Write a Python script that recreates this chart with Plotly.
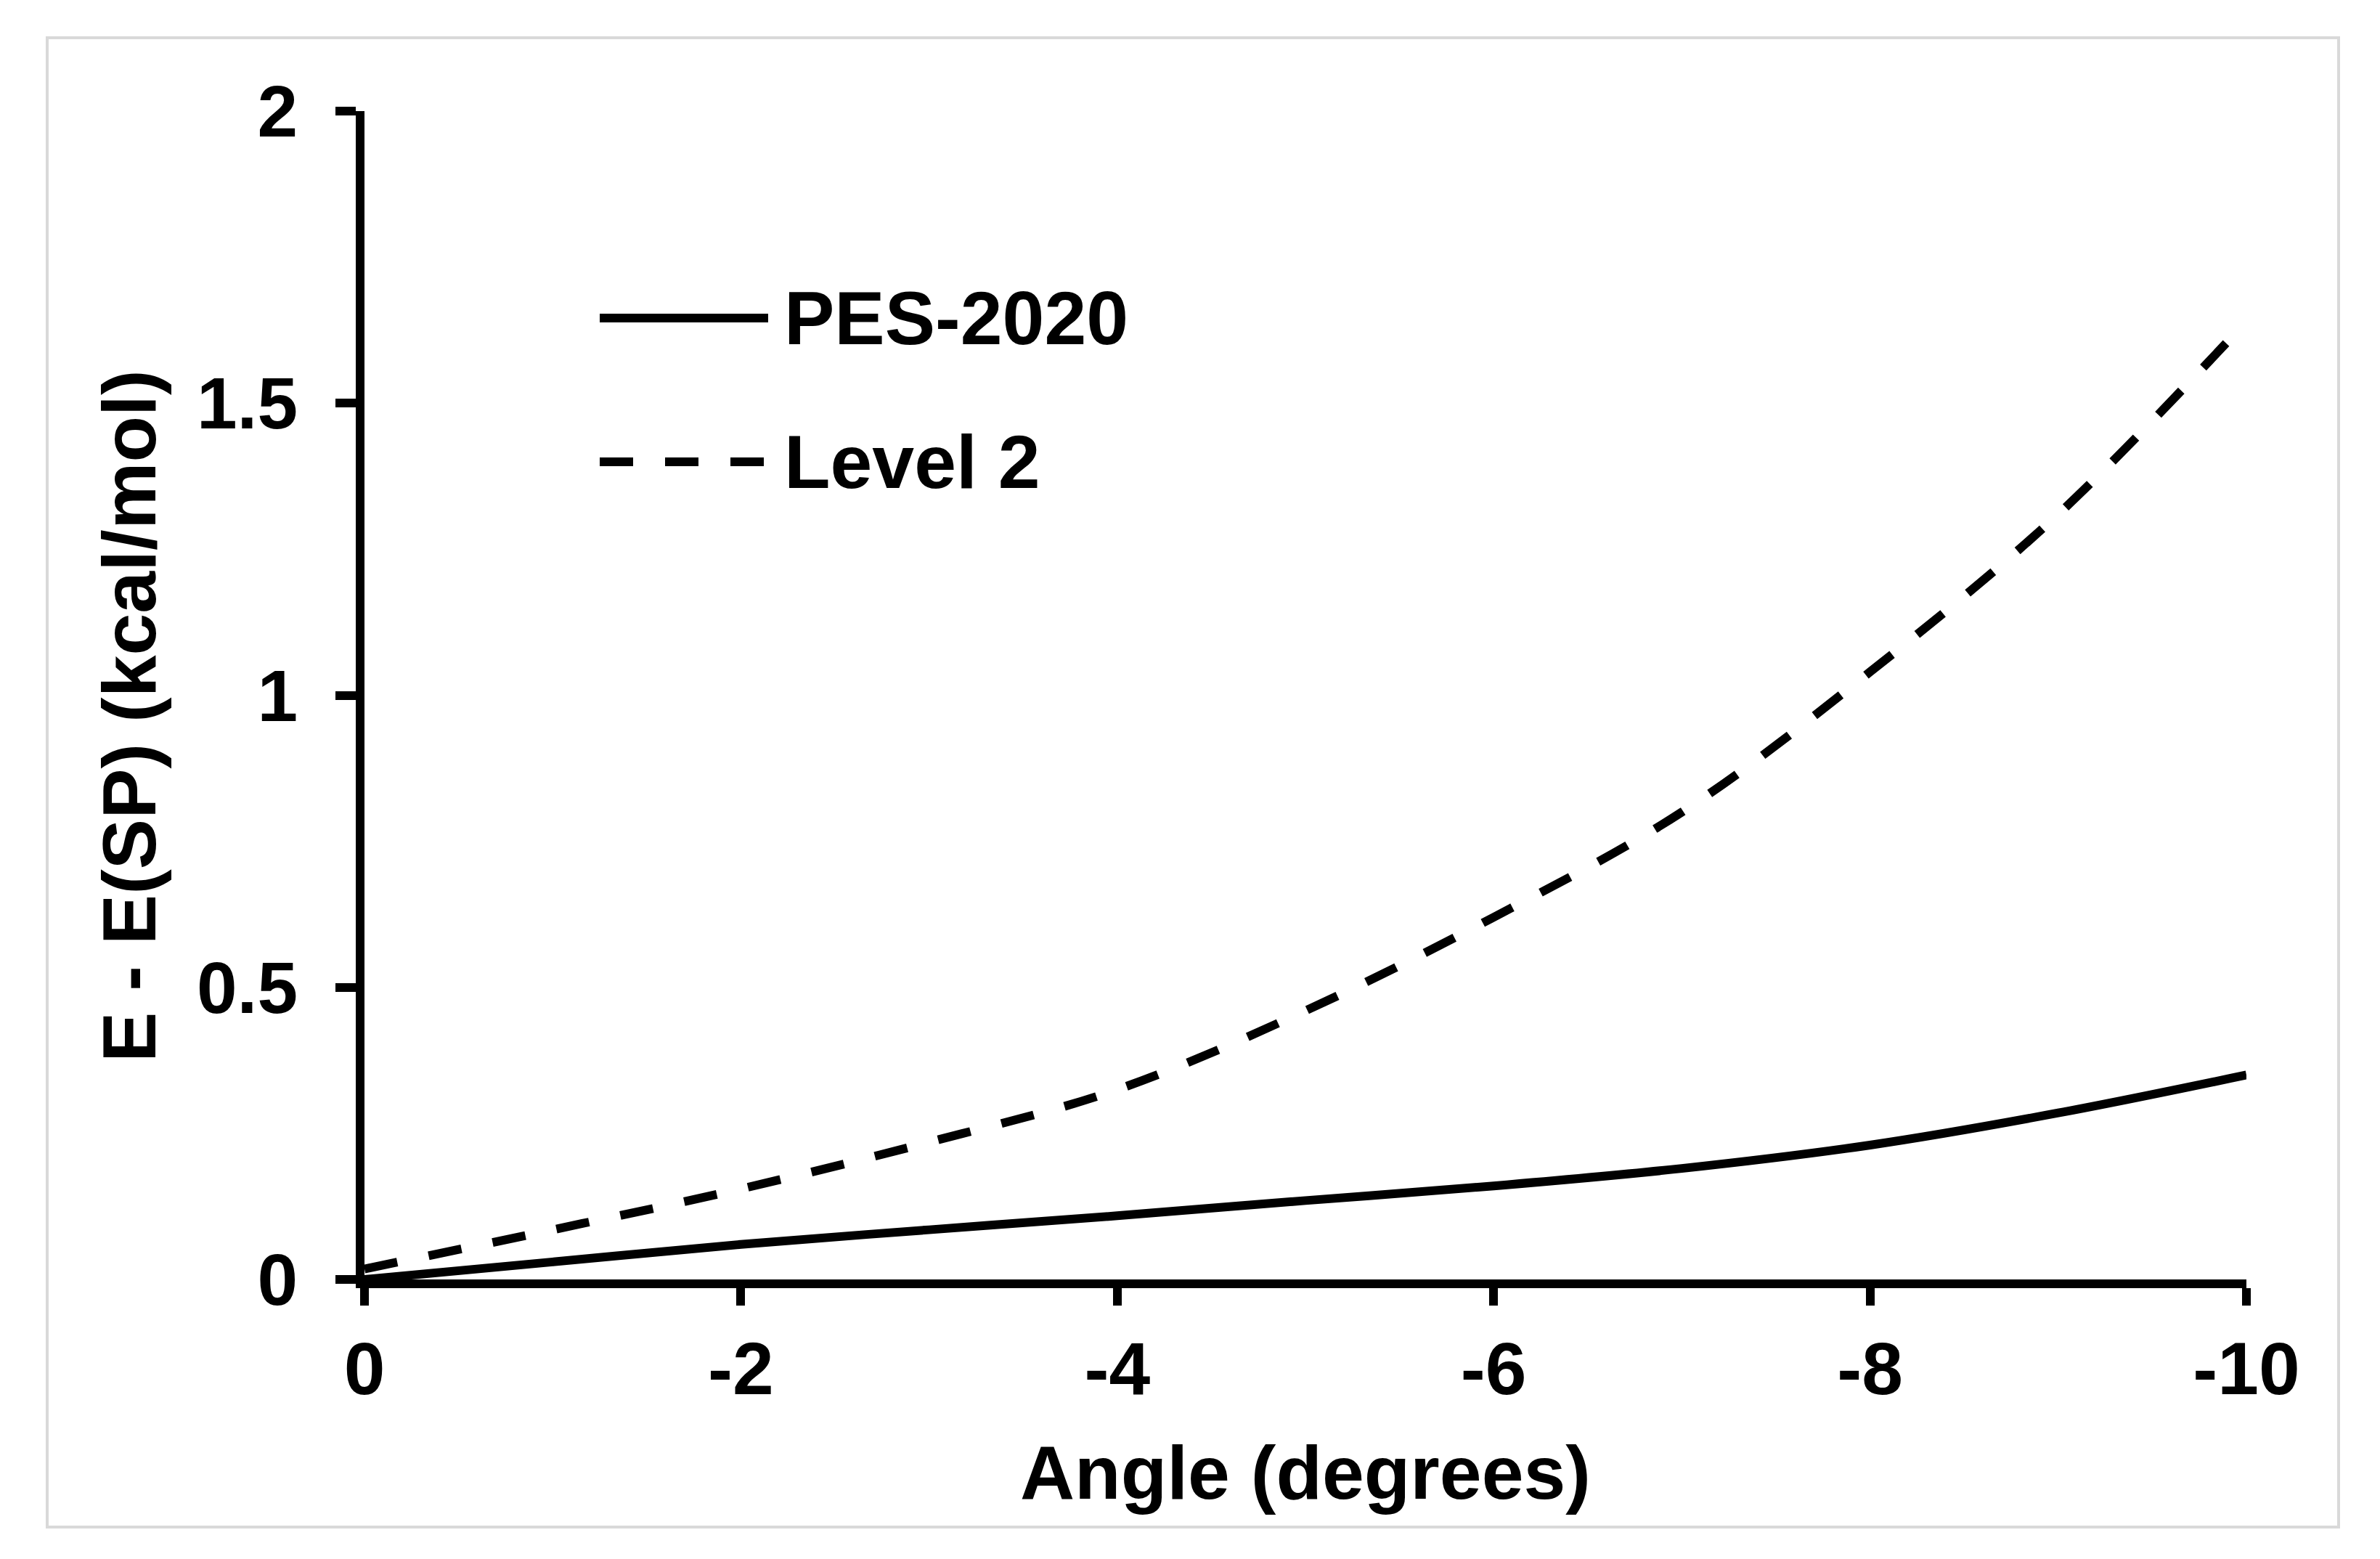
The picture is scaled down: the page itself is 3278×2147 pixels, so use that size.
import plotly.graph_objects as go

# ---- data ----
angle = [0, -1, -2, -3, -4, -5, -6, -7, -8, -9, -10]
pes2020 = [0.0, 0.03, 0.06, 0.085, 0.109, 0.135, 0.16, 0.19, 0.23, 0.285, 0.35]
level2 = [0.018, 0.085, 0.155, 0.235, 0.325, 0.46, 0.62, 0.80, 1.04, 1.31, 1.64]
series_names = ["PES-2020", "Level 2"]
x_ticks = [0, -2, -4, -6, -8, -10]
y_ticks = [0, 0.5, 1, 1.5, 2]
y_ticklabels = ["0", "0.5", "1", "1.5", "2"]
x_title = "Angle (degrees)"
y_title = "E - E(SP) (kcal/mol)"

W, H = 3278, 2147
ML, MR, MT, MB = 494, 192, 145, 393
PW, PH = W - ML - MR, H - MT - MB

FONT = "Liberation Sans, Arial, sans-serif"
LW = 12
DASH = "46px,44px"

def px2paper(px, py):
    return (px - ML) / PW, (H - MB - py) / PH

fig = go.Figure()
fig.add_trace(go.Scatter(x=angle, y=pes2020, mode="lines", name=series_names[0],
                         line=dict(color="black", width=LW, shape="spline"), showlegend=False))
fig.add_trace(go.Scatter(x=angle, y=level2, mode="lines", name=series_names[1],
                         line=dict(color="black", width=LW, shape="spline", dash=DASH),
                         showlegend=False))

shapes = []
# outer light-grey frame
x0, y0 = px2paper(57, 2095)
x1, y1 = px2paper(3213, 44)
shapes.append(dict(type="rect", xref="paper", yref="paper", x0=x0, y0=y0, x1=x1, y1=y1,
                   line=dict(color="#d9d9d9", width=4), layer="below"))

# custom legend (long sample lines as in the reference)
annotations = []
rows = [(430, None), (628, DASH)]
for (py, dash), name in zip(rows, series_names):
    lx0, ly = px2paper(818, py)
    lx1, _ = px2paper(1050, py)
    ln = dict(color="black", width=LW)
    if dash:
        ln["dash"] = dash
    shapes.append(dict(type="line", xref="paper", yref="paper", x0=lx0, x1=lx1, y0=ly, y1=ly, line=ln))
    tx, ty = px2paper(1070, py)
    annotations.append(dict(x=tx, y=ty, xref="paper", yref="paper", text=name, showarrow=False,
                            xanchor="left", yanchor="middle",
                            font=dict(family=FONT, size=104, color="black", weight="bold")))

# y-axis title
tx, ty = px2paper(170, 978)
annotations.append(dict(x=tx, y=ty, xref="paper", yref="paper", text=y_title, showarrow=False,
                        textangle=-90, xanchor="center", yanchor="middle",
                        font=dict(family=FONT, size=104, color="black", weight="bold")))

fig.update_layout(
    width=W, height=H,
    margin=dict(l=ML, r=MR, t=MT, b=MB),
    paper_bgcolor="white", plot_bgcolor="white",
    shapes=shapes, annotations=annotations,
    showlegend=False,
    font=dict(family=FONT, color="black", weight="bold"),
)
fig.update_xaxes(
    range=[0, -10], tickvals=x_ticks, ticktext=[str(v) for v in x_ticks],
    showgrid=False, zeroline=False, showline=True, linecolor="black", linewidth=LW,
    ticks="outside", ticklen=24, tickwidth=LW, tickcolor="black",
    tickfont=dict(family=FONT, size=102, color="black", weight="bold"),
    ticklabelstandoff=0,
    title=dict(text=x_title, standoff=55,
               font=dict(family=FONT, size=104, color="black", weight="bold")),
)
fig.update_yaxes(
    range=[0, 2], tickvals=y_ticks, ticktext=y_ticklabels,
    showgrid=False, zeroline=False, showline=True, linecolor="black", linewidth=LW,
    ticks="outside", ticklen=28, tickwidth=LW, tickcolor="black",
    tickfont=dict(family=FONT, size=100, color="black", weight="bold"),
    ticklabelstandoff=32,
)

fig.write_html("out.html")
